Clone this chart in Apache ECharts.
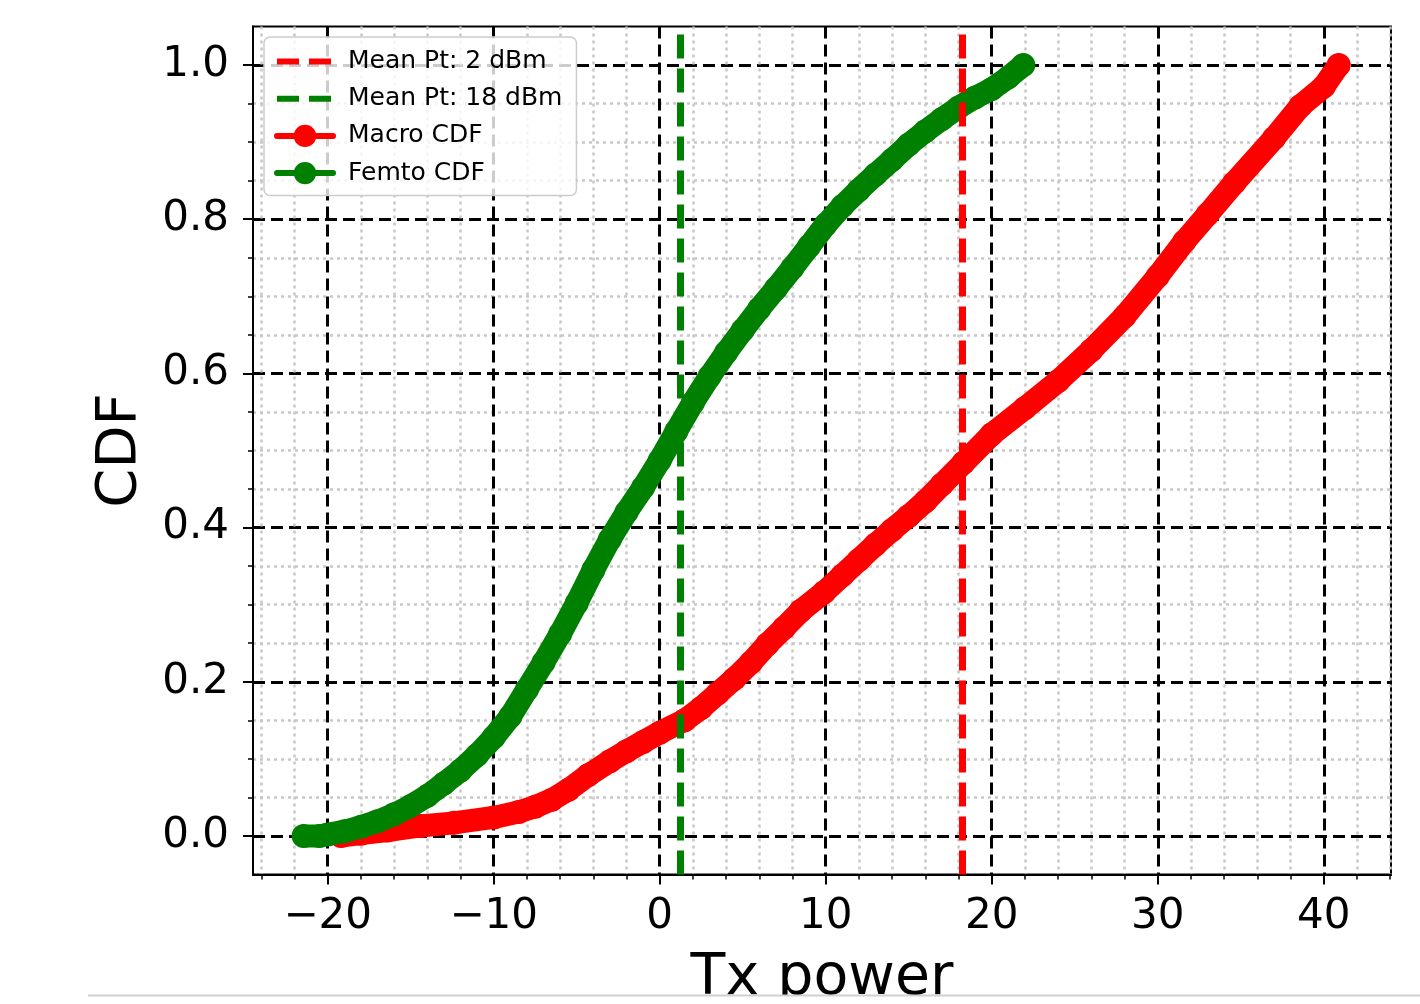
<!DOCTYPE html>
<html>
<head>
<meta charset="utf-8">
<script src="https://cdn.jsdelivr.net/npm/echarts@6/dist/echarts.min.js"></script>
<style>
  html, body { margin: 0; padding: 0; background: #ffffff; }
  #chart { width: 1420px; height: 1004px; }
</style>
</head>
<body>
<div id="chart"></div>
<script>
// Femto CDF: [Tx power, CDF]
const femtoCdf = [
  [-21.45, 0], [-20.5, 0.0], [-20, 0.002], [-19, 0.006], [-18, 0.012], [-17, 0.019],
  [-16, 0.028], [-15, 0.039], [-14, 0.052], [-13, 0.068], [-12, 0.085], [-11, 0.105],
  [-10, 0.128], [-9, 0.155], [-8, 0.19], [-7, 0.225], [-6, 0.262], [-5, 0.302],
  [-4, 0.345], [-3, 0.385], [-2, 0.42], [-1, 0.452], [0, 0.487], [1, 0.525],
  [2, 0.562], [3, 0.596], [4, 0.627], [5, 0.656], [6, 0.684], [7, 0.71],
  [8, 0.737], [9, 0.765], [10, 0.793], [11, 0.817], [12, 0.838], [13, 0.858],
  [14, 0.877], [15, 0.897], [16, 0.914], [17, 0.93], [18, 0.945], [19, 0.958],
  [20, 0.969], [21, 0.984], [21.9, 1.0]
];
// Macro CDF
const macroCdf = [
  [-19.2, 0], [-18, 0.003], [-16.4, 0.007], [-14.4, 0.013], [-12.4, 0.017], [-10, 0.024],
  [-8.5, 0.031], [-7.5, 0.038], [-6.5, 0.047], [-5.5, 0.06], [-4.3, 0.079], [-3, 0.097],
  [-2, 0.11], [-1, 0.122], [0, 0.134], [1.5, 0.15], [2.5, 0.166], [3.5, 0.185],
  [4.5, 0.204], [5.5, 0.225], [6.5, 0.249], [7.5, 0.27], [8.5, 0.292], [9.9, 0.316],
  [11, 0.338], [12, 0.358], [13, 0.378], [14, 0.397], [15, 0.415], [16, 0.434],
  [17, 0.456], [18.3, 0.484], [20, 0.521], [22, 0.555], [24, 0.59], [26, 0.63],
  [28, 0.674], [30, 0.726], [31.6, 0.771], [33, 0.806], [34.6, 0.847], [37, 0.905],
  [38.6, 0.947], [40, 0.972], [40.9, 1.0]
];
// mean lines (x position as drawn)
const meanRedX = 18.25;
const meanGreenX = 1.25;

const xRange = [-24.5, 44.05];
const yRange = [-0.05, 1.05];
const xTicks = [-20, -10, 0, 10, 20, 30, 40];
const xMinorTicks = [-24, -22, -18, -16, -14, -12, -8, -6, -4, -2, 2, 4, 6, 8, 12, 14, 16, 18,
  22, 24, 26, 28, 32, 34, 36, 38, 42, 44];
const yTicks = [0, 0.2, 0.4, 0.6, 0.8, 1.0];
const yMinorTicks = [0.05, 0.1, 0.15, 0.25, 0.3, 0.35, 0.45, 0.5, 0.55, 0.65, 0.7, 0.75,
  0.85, 0.9, 0.95];

const FONT = "DejaVu Sans";
const chart = echarts.init(document.getElementById("chart"));

const majorSplit = {
  show: true,
  lineStyle: { color: "#000000", width: 3, type: [12, 6] }
};
const minorSplit = {
  show: true,
  lineStyle: { color: "#c8c8c8", width: 2.5, type: [3, 4] }
};

chart.setOption({
  backgroundColor: "#ffffff",
  animation: false,
  grid: {
    left: 253,
    right: 29,
    top: 26.5,
    bottom: 129.5,
    outerBoundsMode: "none",
    containLabel: false,
    show: true,
    borderColor: "#000000",
    borderWidth: 2,
    backgroundColor: "transparent"
  },
  legend: {
    left: 264,
    top: 37,
    orient: "vertical",
    selectedMode: false,
    padding: [12, 14, 10, 10],
    itemWidth: 56,
    itemHeight: 28,
    itemGap: 12.2,
    backgroundColor: "rgba(255,255,255,0.8)",
    borderColor: "#cccccc",
    borderWidth: 1.5,
    borderRadius: 6,
    lineStyle: { width: 6 },
    textStyle: { fontFamily: FONT, fontSize: 25, color: "#000000", padding: [0, 0, 0, 10] },
    data: [
      { name: "Mean Pt: 2 dBm", itemStyle: { opacity: 0 } },
      { name: "Mean Pt: 18 dBm", itemStyle: { opacity: 0 } },
      { name: "Macro CDF" },
      { name: "Femto CDF" }
    ],
    z: 10
  },
  xAxis: [
    {
      type: "value",
      min: xRange[0],
      max: xRange[1],
      position: "bottom",
      name: "Tx power",
      nameLocation: "middle",
      nameGap: 76,
      nameTextStyle: { fontFamily: FONT, fontSize: 57, color: "#000000" },
      axisLine: { show: true, onZero: false, lineStyle: { color: "#000000", width: 2 } },
      axisTick: { show: true, customValues: xTicks, length: 10, lineStyle: { color: "#000000", width: 2 } },
      axisLabel: {
        show: true,
        customValues: xTicks,
        margin: 22,
        fontFamily: FONT,
        fontSize: 42,
        color: "#000000",
        formatter: v => (v < 0 ? "\u2212" + Math.abs(v) : String(v))
      },
      splitLine: majorSplit
    },
    {
      type: "value",
      min: xRange[0],
      max: xRange[1],
      position: "bottom",
      axisLine: { show: false, onZero: false },
      axisTick: { show: true, customValues: xMinorTicks, length: 5, lineStyle: { color: "#000000", width: 1.5 } },
      axisLabel: { show: false },
      splitLine: minorSplit
    }
  ],
  yAxis: [
    {
      type: "value",
      min: yRange[0],
      max: yRange[1],
      position: "left",
      name: "CDF",
      nameLocation: "middle",
      nameGap: 105,
      nameTextStyle: { fontFamily: FONT, fontSize: 56, color: "#000000" },
      axisLine: { show: true, onZero: false, lineStyle: { color: "#000000", width: 2 } },
      axisTick: { show: true, customValues: yTicks, length: 10, lineStyle: { color: "#000000", width: 2 } },
      axisLabel: {
        show: true,
        customValues: yTicks,
        margin: 24,
        fontFamily: FONT,
        fontSize: 42,
        color: "#000000",
        formatter: v => v.toFixed(1)
      },
      splitLine: majorSplit
    },
    {
      type: "value",
      min: yRange[0],
      max: yRange[1],
      position: "left",
      axisLine: { show: false, onZero: false },
      axisTick: { show: true, customValues: yMinorTicks, length: 5, lineStyle: { color: "#000000", width: 1.5 } },
      axisLabel: { show: false },
      splitLine: minorSplit
    }
  ],
  series: [
    {
      name: "Mean Pt: 2 dBm",
      type: "line",
      data: [],
      symbol: "none",
      color: "#ff0000",
      lineStyle: { color: "#ff0000", width: 7, type: [22, 10] },
      z: 5,
      markLine: {
        silent: true,
        symbol: ["none", "none"],
        label: { show: false },
        lineStyle: { color: "#ff0000", width: 7, type: [24, 10] },
        data: [{ xAxis: meanRedX }]
      }
    },
    {
      name: "Mean Pt: 18 dBm",
      type: "line",
      data: [],
      symbol: "none",
      color: "#008000",
      lineStyle: { color: "#008000", width: 7, type: [22, 10] },
      z: 5,
      markLine: {
        silent: true,
        symbol: ["none", "none"],
        label: { show: false },
        lineStyle: { color: "#008000", width: 7, type: [24, 10] },
        data: [{ xAxis: meanGreenX }]
      }
    },
    {
      name: "Macro CDF",
      type: "line",
      data: macroCdf,
      color: "#ff0000",
      symbol: "circle",
      symbolSize: 24,
      showSymbol: true,
      lineStyle: { color: "#ff0000", width: 23, cap: "round", join: "round" },
      itemStyle: { color: "#ff0000" },
      z: 2
    },
    {
      name: "Femto CDF",
      type: "line",
      data: femtoCdf,
      color: "#008000",
      symbol: "circle",
      symbolSize: 24,
      showSymbol: true,
      lineStyle: { color: "#008000", width: 23, cap: "round", join: "round" },
      itemStyle: { color: "#008000" },
      z: 3
    }
  ],
  graphic: [
    {
      type: "rect",
      z: 100,
      shape: { x: 0, y: 995.5, width: 1420, height: 9 },
      style: { fill: "#ffffff" }
    },
    {
      type: "line",
      z: 101,
      shape: { x1: 88, y1: 995.5, x2: 1420, y2: 995.5 },
      style: { stroke: "#d0d0d0", lineWidth: 2 }
    }
  ]
});
</script>
</body>
</html>
